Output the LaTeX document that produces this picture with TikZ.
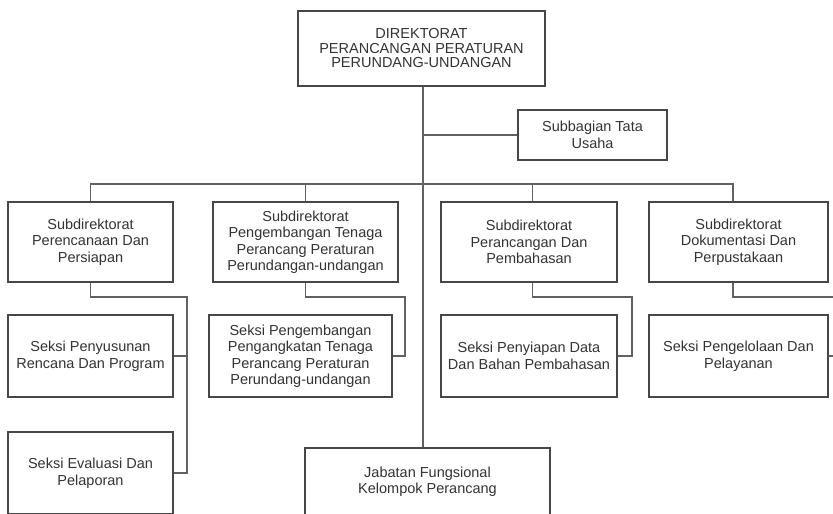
\documentclass[tikz,border=0pt]{standalone}
\usepackage{fontspec}
\setmainfont{Liberation Sans}
\colorlet{frame}{black!72}
\colorlet{wire}{black!62}
\colorlet{inktext}{black!80}
\tikzset{
  org/box/.style={draw=frame, line width=1.2pt, text=inktext, align=center, inner sep=2pt,
    font=\fontsize{14.5}{16.5}\selectfont},
  org/sub/.style={org/box, minimum height=80pt},
  org/seksi/.style={org/box, minimum height=82pt},
  org/link/.style={wire, line width=1.1pt},
}

\begin{document}
\begin{tikzpicture}[x=1pt, y=-1pt]
  \useasboundingbox (0,0) rectangle (833,514);
  \clip (0,0) rectangle (833,514);

  % direktorat en tata usaha
  \node[org/box, minimum width=247pt, minimum height=75pt, font=\fontsize{14.5}{14.5}\selectfont] (dir) at (421.5,48.5) {DIREKTORAT\\PERANCANGAN PERATURAN\\PERUNDANG-UNDANGAN};
  \node[org/box, minimum width=149pt, minimum height=50pt] (tu) at (592.5,135) {Subbagian Tata\\Usaha};

  % subdirektorat
  \node[org/sub, minimum width=165pt] (sub1) at (90.5,242) {Subdirektorat\\Perencanaan Dan\\Persiapan};
  \node[org/sub, minimum width=185pt] (sub2) at (305.5,242) {Subdirektorat\\Pengembangan Tenaga\\Perancang Peraturan\\Perundangan-undangan};
  \node[org/sub, minimum width=176pt] (sub3) at (529,242) {Subdirektorat\\Perancangan Dan\\Pembahasan};
  \node[org/sub, minimum width=179pt] (sub4) at (738.5,242) {Subdirektorat\\Dokumentasi Dan\\Perpustakaan};

  % seksi
  \node[org/seksi, minimum width=165pt] (s11) at (90.5,356) {Seksi Penyusunan\\Rencana Dan Program};
  \node[org/seksi, minimum width=165pt] (s12) at (90.5,473) {Seksi Evaluasi Dan\\Pelaporan};
  \node[org/seksi, minimum width=183pt] (s21) at (300.5,356) {Seksi Pengembangan\\Pengangkatan Tenaga\\Perancang Peraturan\\Perundang-undangan};
  \node[org/seksi, minimum width=176pt] (s31) at (529,356) {Seksi Penyiapan Data\\Dan Bahan Pembahasan};
  \node[org/seksi, minimum width=179pt] (s41) at (738.5,356) {Seksi Pengelolaan Dan\\Pelayanan};

  \node[org/box, minimum width=245pt, minimum height=67pt] (jf) at (427.5,481.5) {Jabatan Fungsional\\Kelompok Perancang};

  % lijnen
  \coordinate (trunk) at (423,184);
  \coordinate (k1) at (187,297);
  \coordinate (k2) at (405,297);
  \coordinate (k3) at (632,297);
  \coordinate (k4) at (840,297);

  \draw[org/link] (trunk |- dir.south) -- (trunk |- jf.north);
  \draw[org/link] (trunk |- tu.west) -- (tu.west);
  \draw[org/link] (sub1.north) |- (trunk) -| ([xshift=-5.5pt]sub4.north);
  \draw[org/link] (sub2.north |- trunk) -- (sub2.north);
  \draw[org/link] ([xshift=3.5pt]sub3.north |- trunk) -- ([xshift=3.5pt]sub3.north);

  \draw[org/link] (sub1.south) |- (k1) |- (s12.east);
  \draw[org/link] (k1 |- s11.east) -- (s11.east);
  \draw[org/link] (sub2.south) |- (k2) |- (s21.east);
  \draw[org/link] ([xshift=3.5pt]sub3.south) |- (k3) |- (s31.east);
  \draw[org/link] ([xshift=-5.5pt]sub4.south) |- (k4) |- (s41.east);
\end{tikzpicture}
\end{document}
